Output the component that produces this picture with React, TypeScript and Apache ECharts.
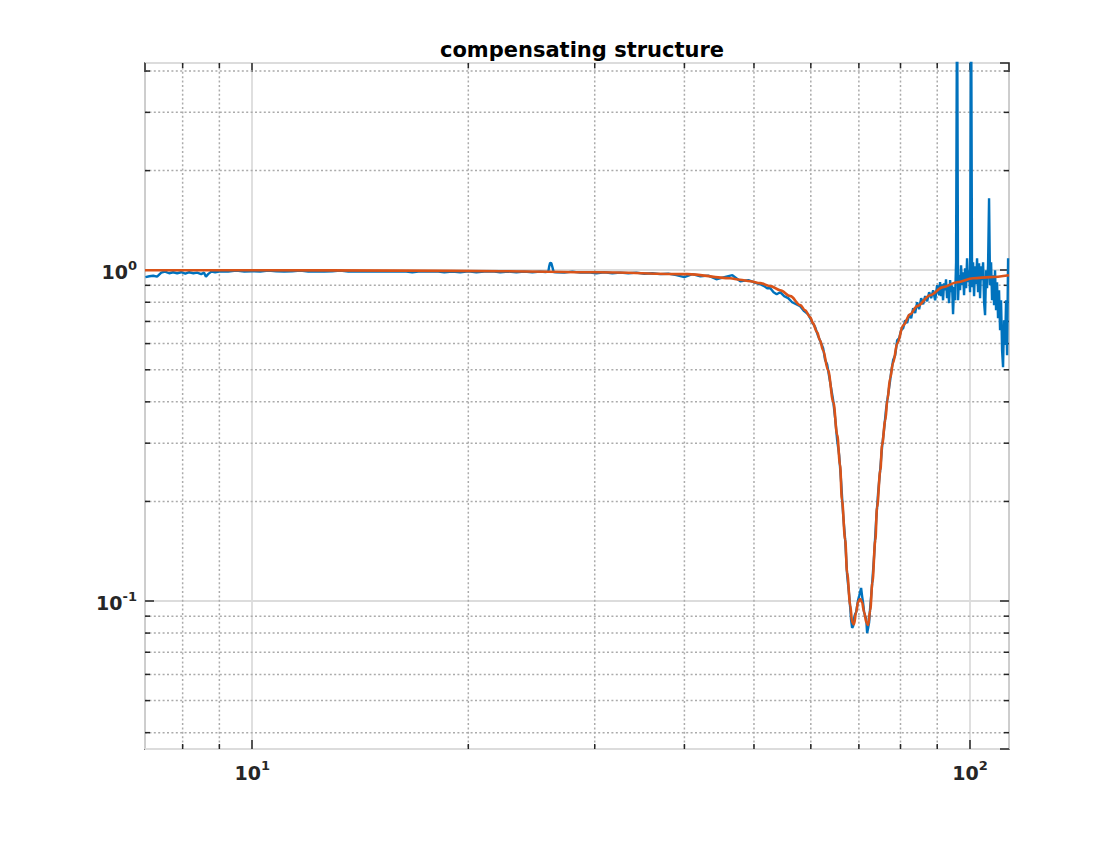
import { useEffect, useRef } from 'react';
import * as echarts from 'echarts';

// ---- data (frequency, gain) ----
const fitCurve: [number, number][] = [
  [7.09, 1.0], [10.0, 1.0], [16.1, 0.997], [22.2, 0.993], [30.2, 0.986], [40.4, 0.973],
  [46.3, 0.946], [47.8, 0.936], [49.4, 0.926], [51.0, 0.914], [52.7, 0.895], [54.4, 0.870],
  [56.2, 0.835], [58.0, 0.784], [58.9, 0.757], [59.9, 0.721], [60.4, 0.692], [61.2, 0.650],
  [61.8, 0.614], [62.4, 0.573], [63.4, 0.499], [64.5, 0.399], [65.3, 0.318], [65.9, 0.258],
  [66.3, 0.202], [67.0, 0.153], [67.4, 0.122], [68.1, 0.097], [68.5, 0.0862], [68.9, 0.085],
  [69.4, 0.0925], [69.8, 0.0992], [70.3, 0.1014], [70.7, 0.0992], [71.2, 0.0925], [71.7, 0.0862],
  [72.1, 0.0846], [72.6, 0.0939], [73.1, 0.1136], [73.8, 0.153], [74.2, 0.192], [75.0, 0.249],
  [75.4, 0.296], [76.2, 0.352], [76.7, 0.405], [77.4, 0.472], [78.1, 0.524], [79.2, 0.602],
  [80.7, 0.682], [82.5, 0.736], [84.4, 0.779], [88.0, 0.840], [91.7, 0.889], [95.9, 0.920],
  [101.0, 0.946], [106.6, 0.953], [113.3, 0.966],
];

const measuredLow: [number, number][] = [
  [7.10, 0.953], [7.19, 0.959], [7.28, 0.962], [7.37, 0.956], [7.47, 0.983], [7.56, 0.990],
  [7.66, 0.979], [7.76, 0.986], [7.86, 0.979], [7.96, 0.986], [8.07, 0.976], [8.17, 0.986],
  [8.28, 0.979], [8.38, 0.983], [8.49, 0.973], [8.57, 0.983], [8.62, 0.956], [8.68, 0.973],
  [8.77, 0.990], [8.88, 0.986],
];

const measuredFlat: [number, number][] = [
  [9.03, 0.993], [9.26, 0.990], [9.50, 0.997], [9.75, 0.990], [10.00, 0.993], [10.26, 0.990],
  [10.53, 0.997], [10.80, 0.993], [11.08, 0.990], [11.37, 0.993], [11.67, 0.997], [11.97, 0.990],
  [12.28, 0.993], [12.60, 0.990], [12.93, 0.993], [13.26, 0.997], [13.61, 0.990], [13.96, 0.993],
  [14.33, 0.990], [14.70, 0.993], [15.08, 0.990], [15.47, 0.993], [15.88, 0.990], [16.29, 0.993],
  [16.71, 0.986], [17.15, 0.993], [17.59, 0.990], [18.05, 0.993], [18.52, 0.986], [19.00, 0.990],
  [19.49, 0.986], [20.00, 0.993], [20.52, 0.986], [21.05, 0.990], [21.60, 0.993], [22.16, 0.986],
  [22.74, 0.990], [23.33, 0.986], [23.93, 0.990], [24.56, 0.986], [25.19, 0.990],
];

const measuredSpike: [number, number][] = [
  [25.62, 0.988], [25.85, 0.990], [25.93, 1.03], [26.00, 1.052], [26.10, 1.05], [26.20, 1.02],
  [26.30, 0.988],
];

const measuredShoulder: [number, number][] = [
  [26.52, 0.986], [27.21, 0.983], [27.92, 0.990], [28.64, 0.983], [29.39, 0.986], [30.15, 0.979],
  [30.94, 0.986], [31.74, 0.979], [32.57, 0.983], [33.41, 0.979], [34.28, 0.983], [35.17, 0.976],
  [36.09, 0.979], [37.03, 0.973], [37.99, 0.976], [38.98, 0.966], [39.99, 0.953], [41.03, 0.973],
  [42.10, 0.959], [43.19, 0.963], [44.32, 0.939], [45.47, 0.953], [46.65, 0.966], [47.86, 0.926],
  [49.11, 0.933], [50.38, 0.914],
];

const measuredRollOff: [number, number][] = [
  [51.00, 0.907], [51.66, 0.895], [52.16, 0.882], [52.70, 0.882], [53.24, 0.858], [53.78, 0.846],
  [54.38, 0.858], [55.08, 0.835], [55.79, 0.823], [56.51, 0.800], [57.24, 0.789], [57.98, 0.778],
  [58.73, 0.752], [59.49, 0.736], [60.26, 0.697], [60.84, 0.673], [61.43, 0.632], [62.02, 0.602],
  [62.42, 0.581], [62.82, 0.535], [63.22, 0.520], [63.63, 0.478], [64.04, 0.440], [64.45, 0.405],
  [64.87, 0.357], [65.29, 0.3065], [65.71, 0.276], [66.13, 0.229], [66.56, 0.182], [66.99, 0.153],
  [67.41, 0.120],
];

const measuredNotch: [number, number][] = [
  [67.85, 0.1042], [68.07, 0.0959], [68.28, 0.0876], [68.50, 0.0829], [68.72, 0.0840], [68.94, 0.0888],
  [69.16, 0.0913], [69.39, 0.0925], [69.61, 0.0966], [69.83, 0.1007], [70.06, 0.1035], [70.28, 0.1065],
  [70.50, 0.1095], [70.73, 0.1035], [70.96, 0.0986], [71.19, 0.0925], [71.42, 0.0901], [71.65, 0.0888],
  [71.88, 0.0800], [72.11, 0.0829], [72.34, 0.0862], [72.58, 0.0953], [72.81, 0.1035], [73.05, 0.113],
];

const measuredRecovery: [number, number][] = [
  [73.52, 0.1377], [73.99, 0.1757], [74.47, 0.2135], [74.95, 0.249], [75.43, 0.294], [75.92, 0.333],
  [76.41, 0.383], [76.90, 0.422], [77.39, 0.465], [77.64, 0.492], [78.14, 0.535], [78.64, 0.553],
  [79.15, 0.614], [79.66, 0.623], [80.17, 0.659], [80.69, 0.668], [81.21, 0.706], [81.73, 0.692],
  [82.25, 0.736], [82.78, 0.716], [83.31, 0.768], [83.85, 0.742], [84.39, 0.800], [84.93, 0.762],
  [85.48, 0.823], [86.03, 0.789], [86.58, 0.835], [87.14, 0.806], [87.70, 0.858], [88.26, 0.823],
  [88.83, 0.870], [89.40, 0.811], [89.97, 0.901], [90.55, 0.840],
];

const measuredHighNoise: [number, number][] = [
  [90.82, 0.920], [91.11, 0.835], [91.40, 0.907], [91.70, 0.811], [91.99, 0.913], [92.29, 0.870],
  [92.58, 0.939], [92.88, 0.823], [93.18, 0.901], [93.48, 0.795], [93.79, 0.933], [94.09, 0.858],
  [94.39, 0.901], [94.69, 0.736], [95.00, 0.889], [95.30, 0.811], [95.61, 1.057], [95.92, 8.0],
  [96.22, 0.811], [96.53, 0.966], [96.84, 0.870], [97.15, 1.035], [97.47, 0.901], [97.78, 0.986],
  [98.09, 0.840], [98.41, 1.014], [98.73, 0.882], [99.04, 1.087], [99.36, 0.920], [99.68, 1.0],
  [100.0, 0.858], [100.32, 8.0], [100.64, 0.889], [100.97, 1.057], [101.29, 0.835], [101.62, 1.028],
  [101.94, 0.907], [102.27, 1.087], [102.60, 0.858], [102.93, 1.050], [103.26, 0.823], [103.59, 1.028],
  [103.92, 0.933], [104.26, 1.057], [104.59, 0.800], [104.93, 0.731], [105.27, 1.0], [105.60, 0.882],
  [105.94, 1.035], [106.28, 1.650], [106.62, 0.901], [106.97, 1.057], [107.31, 0.811], [107.65, 0.966],
  [108.00, 0.784], [108.34, 1.0], [108.69, 0.757], [109.04, 0.920], [109.39, 0.716], [109.74, 0.870],
  [110.10, 0.659], [110.45, 0.811], [110.81, 0.573], [111.16, 0.509], [111.52, 0.706], [111.88, 0.594],
  [112.24, 0.811], [112.60, 0.553], [112.97, 1.087],
];

const xRange = [7.09, 113.3];
const yRange = [0.0357, 4.23];
const xMinorTicks = [8, 9, 20, 30, 40, 50, 60, 70, 80, 90];
const yMinorTicks = [0.04, 0.05, 0.06, 0.07, 0.08, 0.09, 0.2, 0.3, 0.4, 0.5, 0.6, 0.7, 0.8, 0.9, 2, 3, 4];
const titleText = 'compensating structure';

const FONT = 'DejaVu Sans';
const AXIS_COLOR = '#262626';

function decadeLabel(v: number): string {
  const e = Math.round(Math.log10(v));
  if (Math.abs(v / Math.pow(10, e) - 1) > 1e-6) return '';
  return `{b|10}{s|${e}}`;
}

const labelRich = {
  b: { fontSize: 19, fontWeight: 'bold', color: AXIS_COLOR, fontFamily: FONT, verticalAlign: 'bottom' },
  s: { fontSize: 13, fontWeight: 'bold', color: AXIS_COLOR, fontFamily: FONT, verticalAlign: 'bottom', padding: [0, 0, 10, 0] },
};

const measured = [
  ...measuredLow, ...measuredFlat, ...measuredSpike, ...measuredShoulder,
  ...measuredRollOff, ...measuredNotch, ...measuredRecovery, ...measuredHighNoise,
];

const dotted = { stroke: '#ababab', lineWidth: 1.5, lineDash: [2, 2.4] };
const tickStyle = { stroke: AXIS_COLOR, lineWidth: 1.5 };

const option: any = {
  animation: false,
  backgroundColor: '#ffffff',
  textStyle: { fontFamily: FONT },
  title: {
    text: titleText,
    left: 577,
    top: 34,
    textAlign: 'center',
    textStyle: { fontSize: 21, fontWeight: 'bold', color: '#000000', fontFamily: FONT },
  },
  grid: {
    left: 145, top: 63, right: 106, bottom: 94,
    show: true, borderColor: AXIS_COLOR, borderWidth: 1.6, backgroundColor: '#ffffff',
  },
  xAxis: [
    {
      type: 'log', logBase: 10, min: xRange[0], max: xRange[1], position: 'bottom',
      axisLine: { show: false },
      axisTick: { show: true, inside: true, length: 9, lineStyle: { color: AXIS_COLOR, width: 1.5 } },
      axisLabel: { formatter: decadeLabel, rich: labelRich, margin: 10, showMinLabel: false, showMaxLabel: false },
      splitLine: { show: true, lineStyle: { color: '#dcdcdc', width: 1.8 } },
    },
    {
      type: 'log', logBase: 10, min: xRange[0], max: xRange[1], position: 'top',
      axisLine: { show: false },
      axisTick: { show: true, inside: true, length: 9, lineStyle: { color: AXIS_COLOR, width: 1.5 } },
      axisLabel: { show: false },
      splitLine: { show: false },
    },
  ],
  yAxis: [
    {
      type: 'log', logBase: 10, min: yRange[0], max: yRange[1], position: 'left',
      axisLine: { show: false },
      axisTick: { show: true, inside: true, length: 9, lineStyle: { color: AXIS_COLOR, width: 1.5 } },
      axisLabel: { formatter: decadeLabel, rich: labelRich, margin: 8, showMinLabel: false, showMaxLabel: false },
      splitLine: { show: true, lineStyle: { color: '#dcdcdc', width: 1.8 } },
    },
    {
      type: 'log', logBase: 10, min: yRange[0], max: yRange[1], position: 'right',
      axisLine: { show: false },
      axisTick: { show: true, inside: true, length: 9, lineStyle: { color: AXIS_COLOR, width: 1.5 } },
      axisLabel: { show: false },
      splitLine: { show: false },
    },
  ],
  series: [
    {
      type: 'custom',
      xAxisIndex: 0, yAxisIndex: 0,
      z: 1, silent: true,
      data: xMinorTicks.map((v) => [v, 1]),
      encode: { x: 0, y: 1 },
      renderItem: (params: any, api: any) => {
        const cs = params.coordSys;
        const x = api.coord([api.value(0), 1])[0];
        const top = cs.y;
        const bottom = cs.y + cs.height;
        return {
          type: 'group',
          children: [
            { type: 'line', shape: { x1: x, y1: top, x2: x, y2: bottom }, style: dotted },
            { type: 'line', shape: { x1: x, y1: bottom, x2: x, y2: bottom - 5 }, style: tickStyle },
            { type: 'line', shape: { x1: x, y1: top, x2: x, y2: top + 5 }, style: tickStyle },
          ],
        };
      },
    },
    {
      type: 'custom',
      xAxisIndex: 0, yAxisIndex: 0,
      z: 1, silent: true,
      data: yMinorTicks.map((v) => [10, v]),
      encode: { x: 0, y: 1 },
      renderItem: (params: any, api: any) => {
        const cs = params.coordSys;
        const y = api.coord([10, api.value(1)])[1];
        const left = cs.x;
        const right = cs.x + cs.width;
        return {
          type: 'group',
          children: [
            { type: 'line', shape: { x1: left, y1: y, x2: right, y2: y }, style: dotted },
            { type: 'line', shape: { x1: left, y1: y, x2: left + 5, y2: y }, style: tickStyle },
            { type: 'line', shape: { x1: right, y1: y, x2: right - 5, y2: y }, style: tickStyle },
          ],
        };
      },
    },
    {
      name: 'measured',
      type: 'line',
      xAxisIndex: 0, yAxisIndex: 0,
      data: measured,
      showSymbol: false, symbol: 'none',
      clip: true, z: 3,
      lineStyle: { color: '#0072BD', width: 2.4 },
    },
    {
      name: 'fit',
      type: 'line',
      xAxisIndex: 0, yAxisIndex: 0,
      data: fitCurve,
      showSymbol: false, symbol: 'none',
      smooth: 0.35, smoothMonotone: 'x',
      clip: true, z: 4,
      lineStyle: { color: '#D95319', width: 2.6 },
    },
  ],
};

export default function App() {
  const ref = useRef<HTMLDivElement>(null);
  useEffect(() => {
    if (!ref.current) return;
    const chart = echarts.init(ref.current, null, { renderer: 'svg' });
    chart.setOption(option);
    return () => chart.dispose();
  }, []);
  return (
    <div
      ref={ref}
      style={{ position: 'fixed', left: 0, top: 0, width: 1115, height: 843, background: '#ffffff' }}
    />
  );
}
